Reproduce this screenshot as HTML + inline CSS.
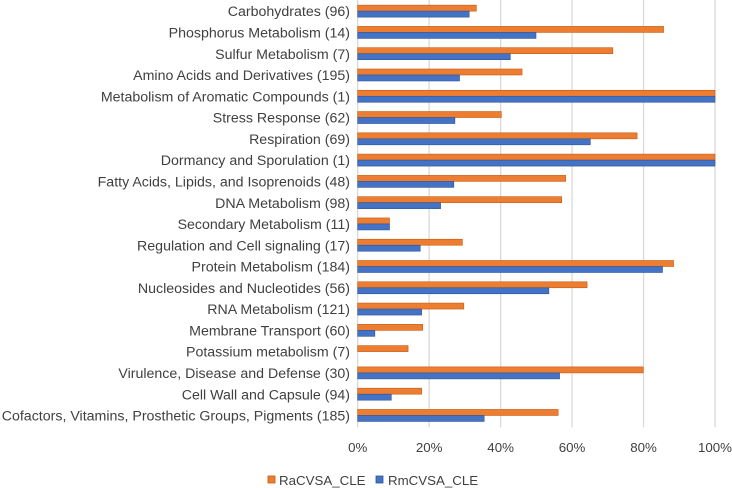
<!DOCTYPE html>
<html><head><meta charset="utf-8"><style>
html,body{margin:0;padding:0;background:#fff;}
svg{display:block;font-family:"Liberation Sans",sans-serif;}
</style></head><body>
<svg id="chart" width="732" height="488" viewBox="0 0 732 488" xmlns="http://www.w3.org/2000/svg">
<g id="grid"></g>
<g id="labels"></g>
<g id="bars"></g>
<g id="ticks"></g>
<g>
  <rect x="268" y="476" width="7" height="7" fill="#ED7D31" stroke="#C55A11" stroke-width="0.8"/>
  <text x="279" y="485" font-size="13.3" fill="#404040">RaCVSA_CLE</text>
  <rect x="376" y="476" width="7" height="7" fill="#4472C4" stroke="#2F5597" stroke-width="0.8"/>
  <text x="388" y="485" font-size="13.3" fill="#404040">RmCVSA_CLE</text>
</g>
</svg>
<script>
const categories = ["Carbohydrates (96)","Phosphorus Metabolism (14)","Sulfur Metabolism (7)","Amino Acids and Derivatives (195)","Metabolism of Aromatic Compounds (1)","Stress Response (62)","Respiration (69)","Dormancy and Sporulation (1)","Fatty Acids, Lipids, and Isoprenoids (48)","DNA Metabolism (98)","Secondary Metabolism (11)","Regulation and Cell signaling (17)","Protein Metabolism (184)","Nucleosides and Nucleotides (56)","RNA Metabolism (121)","Membrane Transport (60)","Potassium metabolism (7)","Virulence, Disease and Defense (30)","Cell Wall and Capsule (94)","Cofactors, Vitamins, Prosthetic Groups, Pigments (185)"];
const raValues = [33.2,85.6,71.4,46.0,100,40.2,78.2,100,58.2,57.1,8.9,29.3,88.4,64.2,29.7,18.2,14.1,79.9,17.9,56.1];
const rmValues = [31.2,49.9,42.7,28.5,100,27.2,65.1,100,26.9,23.2,8.9,17.5,85.3,53.5,17.9,4.8,0,56.5,9.4,35.4];
const tickValues = [0,20,40,60,80,100];
const tickLabels = ["0%","20%","40%","60%","80%","100%"];

const NS="http://www.w3.org/2000/svg";
const X0=357.7, X1=715, Y0=0.8, BAND=21.28, BARH=6;
function xScale(v){return X0+(X1-X0)*v/100;}
function yBand(i){return Y0+i*BAND;}
function mk(tag,attrs,parent){const e=document.createElementNS(NS,tag);for(const k in attrs)e.setAttribute(k,attrs[k]);parent.appendChild(e);return e;}
const grid=document.getElementById('grid'),labels=document.getElementById('labels'),bars=document.getElementById('bars'),ticks=document.getElementById('ticks');
const plotBottom=yBand(categories.length)+1;
tickValues.forEach((t,i)=>{
  const x=xScale(t);
  const l=mk('line',{x1:x,x2:x,y1:0,y2:plotBottom,stroke:'#D9D9D9','stroke-width':1.3},grid);
  
  
  const tx=mk('text',{x:x,y:452,'text-anchor':'middle','font-size':13.3,fill:'#404040'},ticks);
  tx.textContent=tickLabels[i];
  
  
});
categories.forEach((c,i)=>{
  const yb=yBand(i);
  const t=mk('text',{x:350,y:yb+BAND/2+4.8,'text-anchor':'end','font-size':14.2,fill:'#404040'},labels);
  t.textContent=c;
  
  
  const top=yb+BAND/2-BARH-0.3;
  if(raValues[i]>0){
    const r=mk('rect',{x:X0,y:top,width:xScale(raValues[i])-X0,height:BARH,fill:'#ED7D31',stroke:'#C55A11','stroke-width':0.6},bars);
    
    
  }
  if(rmValues[i]>0){
    const r2=mk('rect',{x:X0,y:top+BARH,width:xScale(rmValues[i])-X0,height:BARH,fill:'#4472C4',stroke:'#2F5597','stroke-width':0.6},bars);
    
    
  }
});
</script>
</body></html>
